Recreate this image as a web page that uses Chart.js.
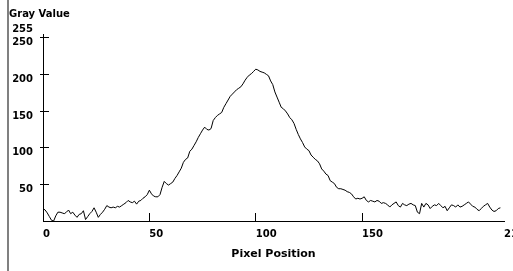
<!DOCTYPE html>
<html>
<head>
<meta charset="utf-8">
<script src="https://cdn.jsdelivr.net/npm/chart.js@4.4.0/dist/chart.umd.min.js"></script>
<style>
  html, body { margin: 0; padding: 0; background: #fff; }
  #caja { width: 513px; height: 271px; }
</style>
</head>
<body>
<div id="caja"><canvas id="perfil" width="513" height="271"></canvas></div>
<script>
'use strict';

// Perfil de gris a lo largo de la linea, un valor por pixel
const VALORES_GRIS = [
    17, 15, 11, 6, 1, 0, 7, 12, 12, 11,
    10, 12, 15, 10, 12, 8, 5, 9, 10, 14,
    2, 6, 10, 13, 18, 12, 5, 9, 12, 16,
    21, 19, 18, 19, 18, 20, 19, 21, 23, 25,
    28, 26, 25, 27, 23, 27, 28, 31, 33, 36,
    42, 37, 34, 33, 33, 36, 46, 54, 51, 49,
    51, 53, 58, 62, 67, 72, 80, 84, 86, 95,
    98, 103, 108, 114, 119, 124, 128, 125, 124, 126,
    137, 141, 144, 146, 148, 155, 160, 165, 170, 173,
    176, 179, 181, 183, 187, 192, 196, 199, 201, 204,
    207, 206, 204, 203, 202, 200, 198, 191, 186, 176,
    169, 162, 155, 153, 150, 146, 141, 138, 133, 125,
    118, 112, 107, 101, 98, 96, 90, 87, 84, 82,
    78, 71, 68, 64, 62, 55, 53, 51, 46, 44,
    44, 43, 42, 40, 39, 37, 33, 30, 31, 30,
    31, 33, 28, 26, 28, 27, 26, 28, 27, 24,
    25, 24, 22, 19, 22, 24, 26, 21, 19, 24,
    22, 21, 23, 24, 22, 21, 12, 10, 24, 19,
    24, 22, 17, 20, 22, 21, 24, 21, 18, 20,
    14, 18, 22, 21, 19, 22, 19, 20, 22, 24,
    26, 23, 20, 19, 16, 14, 17, 20, 22, 24,
    19, 15, 13, 14, 17, 18
];

const TICKS_X = [0, 50, 100, 150, 216.7];
const ETIQUETAS_X = ['0', '50', '100', '150', '216.7'];
const TICKS_Y = [50, 100, 150, 200, 250, 255];
const X_MAX = 216.7;
const Y_MAX = 255;

const FUENTE = { family: "'DejaVu Sans', sans-serif", size: 10, weight: 'bold', lineHeight: 1.2 };

// Borde gris a la izquierda, como el marco de la ventana original
const marcoIzquierdo = {
    id: 'marcoIzquierdo',
    beforeDraw(chart) {
        const ctx = chart.ctx;
        ctx.save();
        ctx.fillStyle = '#fff';
        ctx.fillRect(0, 0, chart.width, chart.height);
        ctx.fillStyle = '#808080';
        ctx.fillRect(7, 0, 2, chart.height);
        ctx.restore();
    }
};

const colorMarcaY = c => (c.tick && c.tick.value === Y_MAX) ? 'rgba(0,0,0,0)' : '#000';

new Chart(document.getElementById('perfil'), {
    type: 'line',
    data: {
        datasets: [{
            data: VALORES_GRIS.map((v, i) => ({ x: i, y: v })),
            borderColor: '#000',
            borderWidth: 1,
            pointRadius: 0,
            tension: 0,
            fill: false
        }]
    },
    options: {
        responsive: false,
        animation: false,
        devicePixelRatio: 1,
        layout: { padding: { left: 9, right: 9, top: 0, bottom: 0 } },
        plugins: {
            legend: { display: false },
            tooltip: { enabled: false },
            title: {
                display: true,
                text: 'Gray Value',
                align: 'start',
                color: '#000',
                font: FUENTE,
                padding: { top: 8, bottom: 14 }
            }
        },
        scales: {
            x: {
                type: 'linear',
                min: 0,
                max: X_MAX,
                afterBuildTicks: s => { s.ticks = TICKS_X.map(v => ({ value: v })); },
                afterFit: s => { s.height = 50; s.paddingLeft = 0; s.paddingRight = 0; },
                ticks: {
                    autoSkip: false,
                    maxRotation: 0,
                    align: 'start',
                    padding: 15,
                    color: '#000',
                    font: FUENTE,
                    callback: (v, i) => ETIQUETAS_X[i]
                },
                grid: {
                    drawOnChartArea: false,
                    tickLength: -8,
                    color: c => (c.tick && c.tick.value === X_MAX) ? 'rgba(0,0,0,0)' : '#000'
                },
                border: { display: true, color: '#000', width: 1 },
                title: {
                    display: true,
                    text: 'Pixel Position',
                    color: '#000',
                    font: { ...FUENTE, size: 11 },
                    padding: { top: 0, bottom: 10 }
                }
            },
            y: {
                min: 0,
                max: Y_MAX,
                afterBuildTicks: s => { s.ticks = TICKS_Y.map(v => ({ value: v })); },
                afterFit: s => { s.width = 34; s.paddingTop = 0; s.paddingBottom = 0; },
                ticks: {
                    autoSkip: false,
                    align: 'start',
                    padding: 16,
                    color: '#000',
                    font: { ...FUENTE, lineHeight: 1.86 },
                    // el 255 va encima del extremo del eje, los demas debajo de su marca
                    callback: v => v === Y_MAX ? [String(v), ''] : String(v)
                },
                grid: {
                    drawOnChartArea: false,
                    tickLength: -6,
                    color: colorMarcaY
                },
                border: { display: true, color: '#000', width: 1 }
            },
            // eje auxiliar sin etiquetas: solo pone el trozo de marca que sale hacia fuera
            yMarcas: {
                position: 'left',
                weight: -1,
                min: 0,
                max: Y_MAX,
                afterBuildTicks: s => { s.ticks = TICKS_Y.map(v => ({ value: v })); },
                afterFit: s => { s.width = 0; s.paddingTop = 0; s.paddingBottom = 0; },
                ticks: { display: false },
                grid: {
                    drawOnChartArea: false,
                    tickLength: 3,
                    color: colorMarcaY
                },
                border: { display: false }
            }
        }
    },
    plugins: [marcoIzquierdo]
});
</script>
</body>
</html>
